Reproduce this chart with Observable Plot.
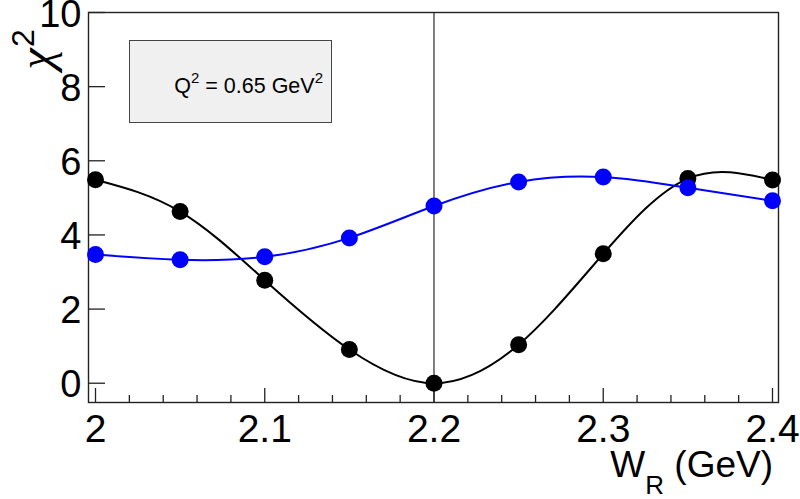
<!DOCTYPE html>
<html><head><meta charset="utf-8">
<script src="https://cdn.jsdelivr.net/npm/d3@7"></script>
<script src="https://cdn.jsdelivr.net/npm/@observablehq/plot@0.6"></script>
<style>body{margin:0;background:#fff} svg{display:block}</style>
</head><body><div id="chart"></div>
<script>
// Data
const W = [2.0, 2.05, 2.1, 2.15, 2.2, 2.25, 2.3, 2.35, 2.4];
const chiBlack = [5.49, 4.63, 2.78, 0.91, 0.0, 1.04, 3.49, 5.52, 5.48];
const chiBlue  = [3.47, 3.33, 3.41, 3.92, 4.78, 5.43, 5.56, 5.27, 4.92];
const xMajor = [2.0, 2.1, 2.2, 2.3, 2.4];
const xMinor = [2.02, 2.04, 2.06, 2.08, 2.12, 2.14, 2.16, 2.18, 2.22, 2.24, 2.26, 2.28, 2.32, 2.34, 2.36, 2.38];
const yMajor = [0, 2, 4, 6, 8, 10];
const markerLine = [2.2];

const black = W.map((w, i) => ({w, chi: chiBlack[i]}));
const blue = W.map((w, i) => ({w, chi: chiBlue[i]}));

const width = 800, height = 499;
const ml = 88, mr = 22, mt = 12, mb = 97;
const fw = width - ml - mr, fh = height - mt - mb;
const font = "'Liberation Sans', Arial, Helvetica, sans-serif";

const plot = Plot.plot({
  width, height,
  marginLeft: ml, marginRight: mr, marginTop: mt, marginBottom: mb,
  style: {fontFamily: font, background: "white", overflow: "visible", color: "black"},
  x: {domain: [1.99586, 2.40355]},
  y: {domain: [-0.52, 10]},
  marks: [
    Plot.ruleX(markerLine, {x: d => d, stroke: "black", strokeWidth: 1}),
    Plot.ruleX(xMajor, {x: d => d, insetTop: fh - 14, stroke: "#222", strokeWidth: 1.3}),
    Plot.ruleX(xMinor, {x: d => d, insetTop: fh - 7, stroke: "#222", strokeWidth: 1.3}),
    Plot.ruleY(yMajor, {y: d => d, insetRight: fw - 17, stroke: "#222", strokeWidth: 1.3}),
    Plot.axisX(xMajor, {tickSize: 0, tickPadding: 12, fontSize: 39, tickFormat: d3.format("~g"), label: null}),
    Plot.axisY(yMajor, {tickSize: 0, tickPadding: 7, fontSize: 38, dy: 2, label: null}),
    Plot.frame({stroke: "#222", strokeWidth: 1.4}),
    Plot.line(black, {x: "w", y: "chi", curve: "natural", stroke: "black", strokeWidth: 2}),
    Plot.dot(black, {x: "w", y: "chi", r: 8.5, fill: "black", stroke: "none"}),
    Plot.line(blue, {x: "w", y: "chi", curve: "natural", stroke: "#0000ff", strokeWidth: 2}),
    Plot.dot(blue, {x: "w", y: "chi", r: 8.5, fill: "#0000ff", stroke: "none"})
  ]
});
document.getElementById("chart").append(plot);

const svg = d3.select(plot);
// legend box
const g = svg.append("g");
g.append("rect").attr("x", 129.5).attr("y", 40.5).attr("width", 202).attr("height", 82)
  .attr("fill", "#f0f0f0").attr("stroke", "#444").attr("stroke-width", 1);
const lt = g.append("text").attr("x", 323).attr("y", 93).attr("text-anchor", "end")
  .attr("font-family", font).attr("font-size", 21.5).attr("fill", "black");
lt.append("tspan").text("Q");
lt.append("tspan").attr("font-size", 15).attr("dy", -10).text("2");
lt.append("tspan").attr("dy", 10).text(" = 0.65 GeV");
lt.append("tspan").attr("font-size", 15).attr("dy", -10).text("2");

// x title
const xt = svg.append("text").attr("x", 773).attr("y", 477).attr("text-anchor", "end")
  .attr("font-family", font).attr("font-size", 37).attr("fill", "black");
xt.append("tspan").text("W");
xt.append("tspan").attr("font-size", 26).attr("dy", 17).text("R");
xt.append("tspan").attr("dy", -17).text(" (GeV)");

// y title (rotated)
svg.append("text").attr("transform", "translate(52,59) rotate(-90)")
  .attr("font-family", "'Liberation Serif', 'DejaVu Serif', serif").attr("font-style", "italic")
  .attr("font-size", 48).attr("fill", "black").text("χ");
svg.append("text").attr("transform", "translate(34,38) rotate(-90)")
  .attr("font-family", font).attr("font-size", 32).attr("fill", "black").text("2");
</script>
</body></html>
